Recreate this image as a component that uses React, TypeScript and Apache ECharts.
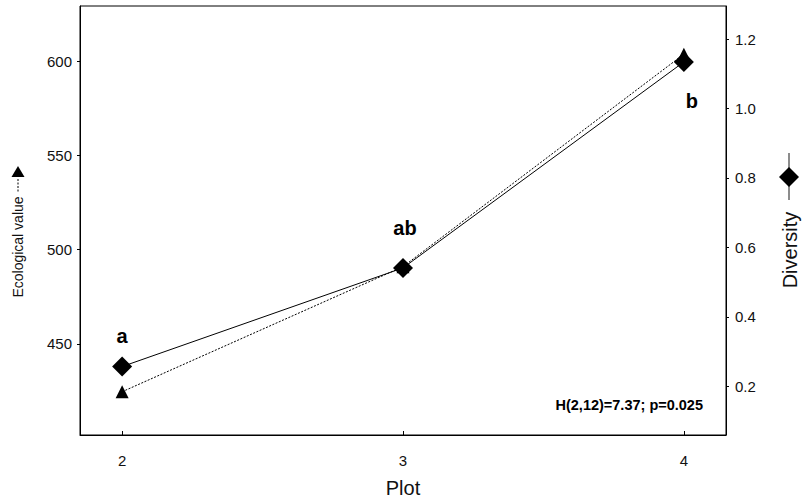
import React, { useEffect, useRef } from "react";
import * as echarts from "echarts";

const plots = [2, 3, 4];
const ecologicalValue = [424.5, 491, 604];
const diversity = [0.257, 0.541, 1.134];
const groupLetters = ["a", "ab", "b"];
const letterOffsets = [[0, -31], [2, -40], [8, 39]];
const xTicks = [2, 3, 4];
const leftTicks = [450, 500, 550, 600];
const rightTicks = [0.2, 0.4, 0.6, 0.8, 1.0, 1.2];
const statText = "H(2,12)=7.37; p=0.025";

const FONT = 'Arial, "Liberation Sans", sans-serif';

export default function App() {
  const ref = useRef<HTMLDivElement>(null);
  useEffect(() => {
    if (!ref.current) return;
    const chart = echarts.init(ref.current, null, { renderer: "svg" });
    const tickLabel = { color: "#111", fontSize: 15, fontFamily: FONT };
    chart.setOption({
      animation: false,
      backgroundColor: "#fff",
      grid: {
        left: 80, right: 85, top: 6, bottom: 66,
        show: true, borderColor: "#000", borderWidth: 1,
      },
      xAxis: {
        type: "value", min: 1.85, max: 4.15,
        name: "Plot", nameLocation: "middle", nameGap: 43,
        nameTextStyle: { fontSize: 20, color: "#111", fontFamily: FONT },
        axisLine: { show: true, lineStyle: { color: "#000", width: 1 } },
        axisTick: { show: true, inside: true, length: 4, customValues: xTicks, lineStyle: { color: "#000" } },
        axisLabel: { ...tickLabel, margin: 18, customValues: xTicks, formatter: (v: number) => String(v) },
        splitLine: { show: false },
      },
      yAxis: [
        {
          type: "value", min: 401.5, max: 629.6, position: "left",
          axisLine: { show: true, lineStyle: { color: "#000", width: 1 } },
          axisTick: { show: true, inside: false, length: 3, customValues: leftTicks, lineStyle: { color: "#000" } },
          axisLabel: { ...tickLabel, margin: 8, customValues: leftTicks, formatter: (v: number) => String(v) },
          splitLine: { show: false },
        },
        {
          type: "value", min: 0.06, max: 1.295, position: "right",
          axisLine: { show: true, lineStyle: { color: "#000", width: 1 } },
          axisTick: { show: true, inside: false, length: 3, customValues: rightTicks, lineStyle: { color: "#000" } },
          axisLabel: { ...tickLabel, margin: 9, customValues: rightTicks, formatter: (v: number) => v.toFixed(1) },
          splitLine: { show: false },
        },
      ],
      series: [
        {
          name: "Ecological value", type: "line", yAxisIndex: 0,
          data: plots.map((p, i) => [p, ecologicalValue[i]]),
          symbol: "triangle", symbolSize: 13,
          itemStyle: { color: "#000" },
          lineStyle: { color: "#000", width: 1, type: [2, 1.5] },
          z: 2,
        },
        {
          name: "Diversity", type: "line", yAxisIndex: 1,
          data: plots.map((p, i) => ({
            value: [p, diversity[i]],
            label: {
              show: true, formatter: groupLetters[i], position: "inside",
              offset: letterOffsets[i], align: "center", verticalAlign: "middle",
              fontSize: 20, fontWeight: "bold", color: "#000", fontFamily: FONT,
            },
          })),
          symbol: "diamond", symbolSize: 20,
          itemStyle: { color: "#000" },
          lineStyle: { color: "#000", width: 1 },
          z: 3,
        },
      ],
      graphic: [
        {
          type: "text", x: 703, y: 397,
          style: { text: statText, font: `bold 14.5px ${FONT}`, fill: "#000", align: "right", verticalAlign: "alphabetic" },
        },
        {
          type: "text", x: 18, y: 247, rotation: Math.PI / 2,
          style: { text: "Ecological value", font: `14px ${FONT}`, fill: "#111", align: "center", verticalAlign: "middle" },
        },
        {
          type: "line", shape: { x1: 18, y1: 179, x2: 18, y2: 193 },
          style: { stroke: "#000", lineWidth: 1, lineDash: [2, 1.5] },
        },
        {
          type: "polygon", shape: { points: [[11.5, 177], [24.5, 177], [18, 166]] },
          style: { fill: "#000" },
        },
        {
          type: "text", x: 790, y: 250, rotation: Math.PI / 2,
          style: { text: "Diversity", font: `20px ${FONT}`, fill: "#111", align: "center", verticalAlign: "middle" },
        },
        {
          type: "line", shape: { x1: 789, y1: 153, x2: 789, y2: 200 },
          style: { stroke: "#666", lineWidth: 1.5 },
        },
        {
          type: "polygon", shape: { points: [[789, 167], [799, 177], [789, 187], [779, 177]] },
          style: { fill: "#000" },
        },
      ],
    });
    return () => chart.dispose();
  }, []);
  return <div ref={ref} style={{ width: 811, height: 503, position: "absolute", left: 0, top: 0 }} />;
}
